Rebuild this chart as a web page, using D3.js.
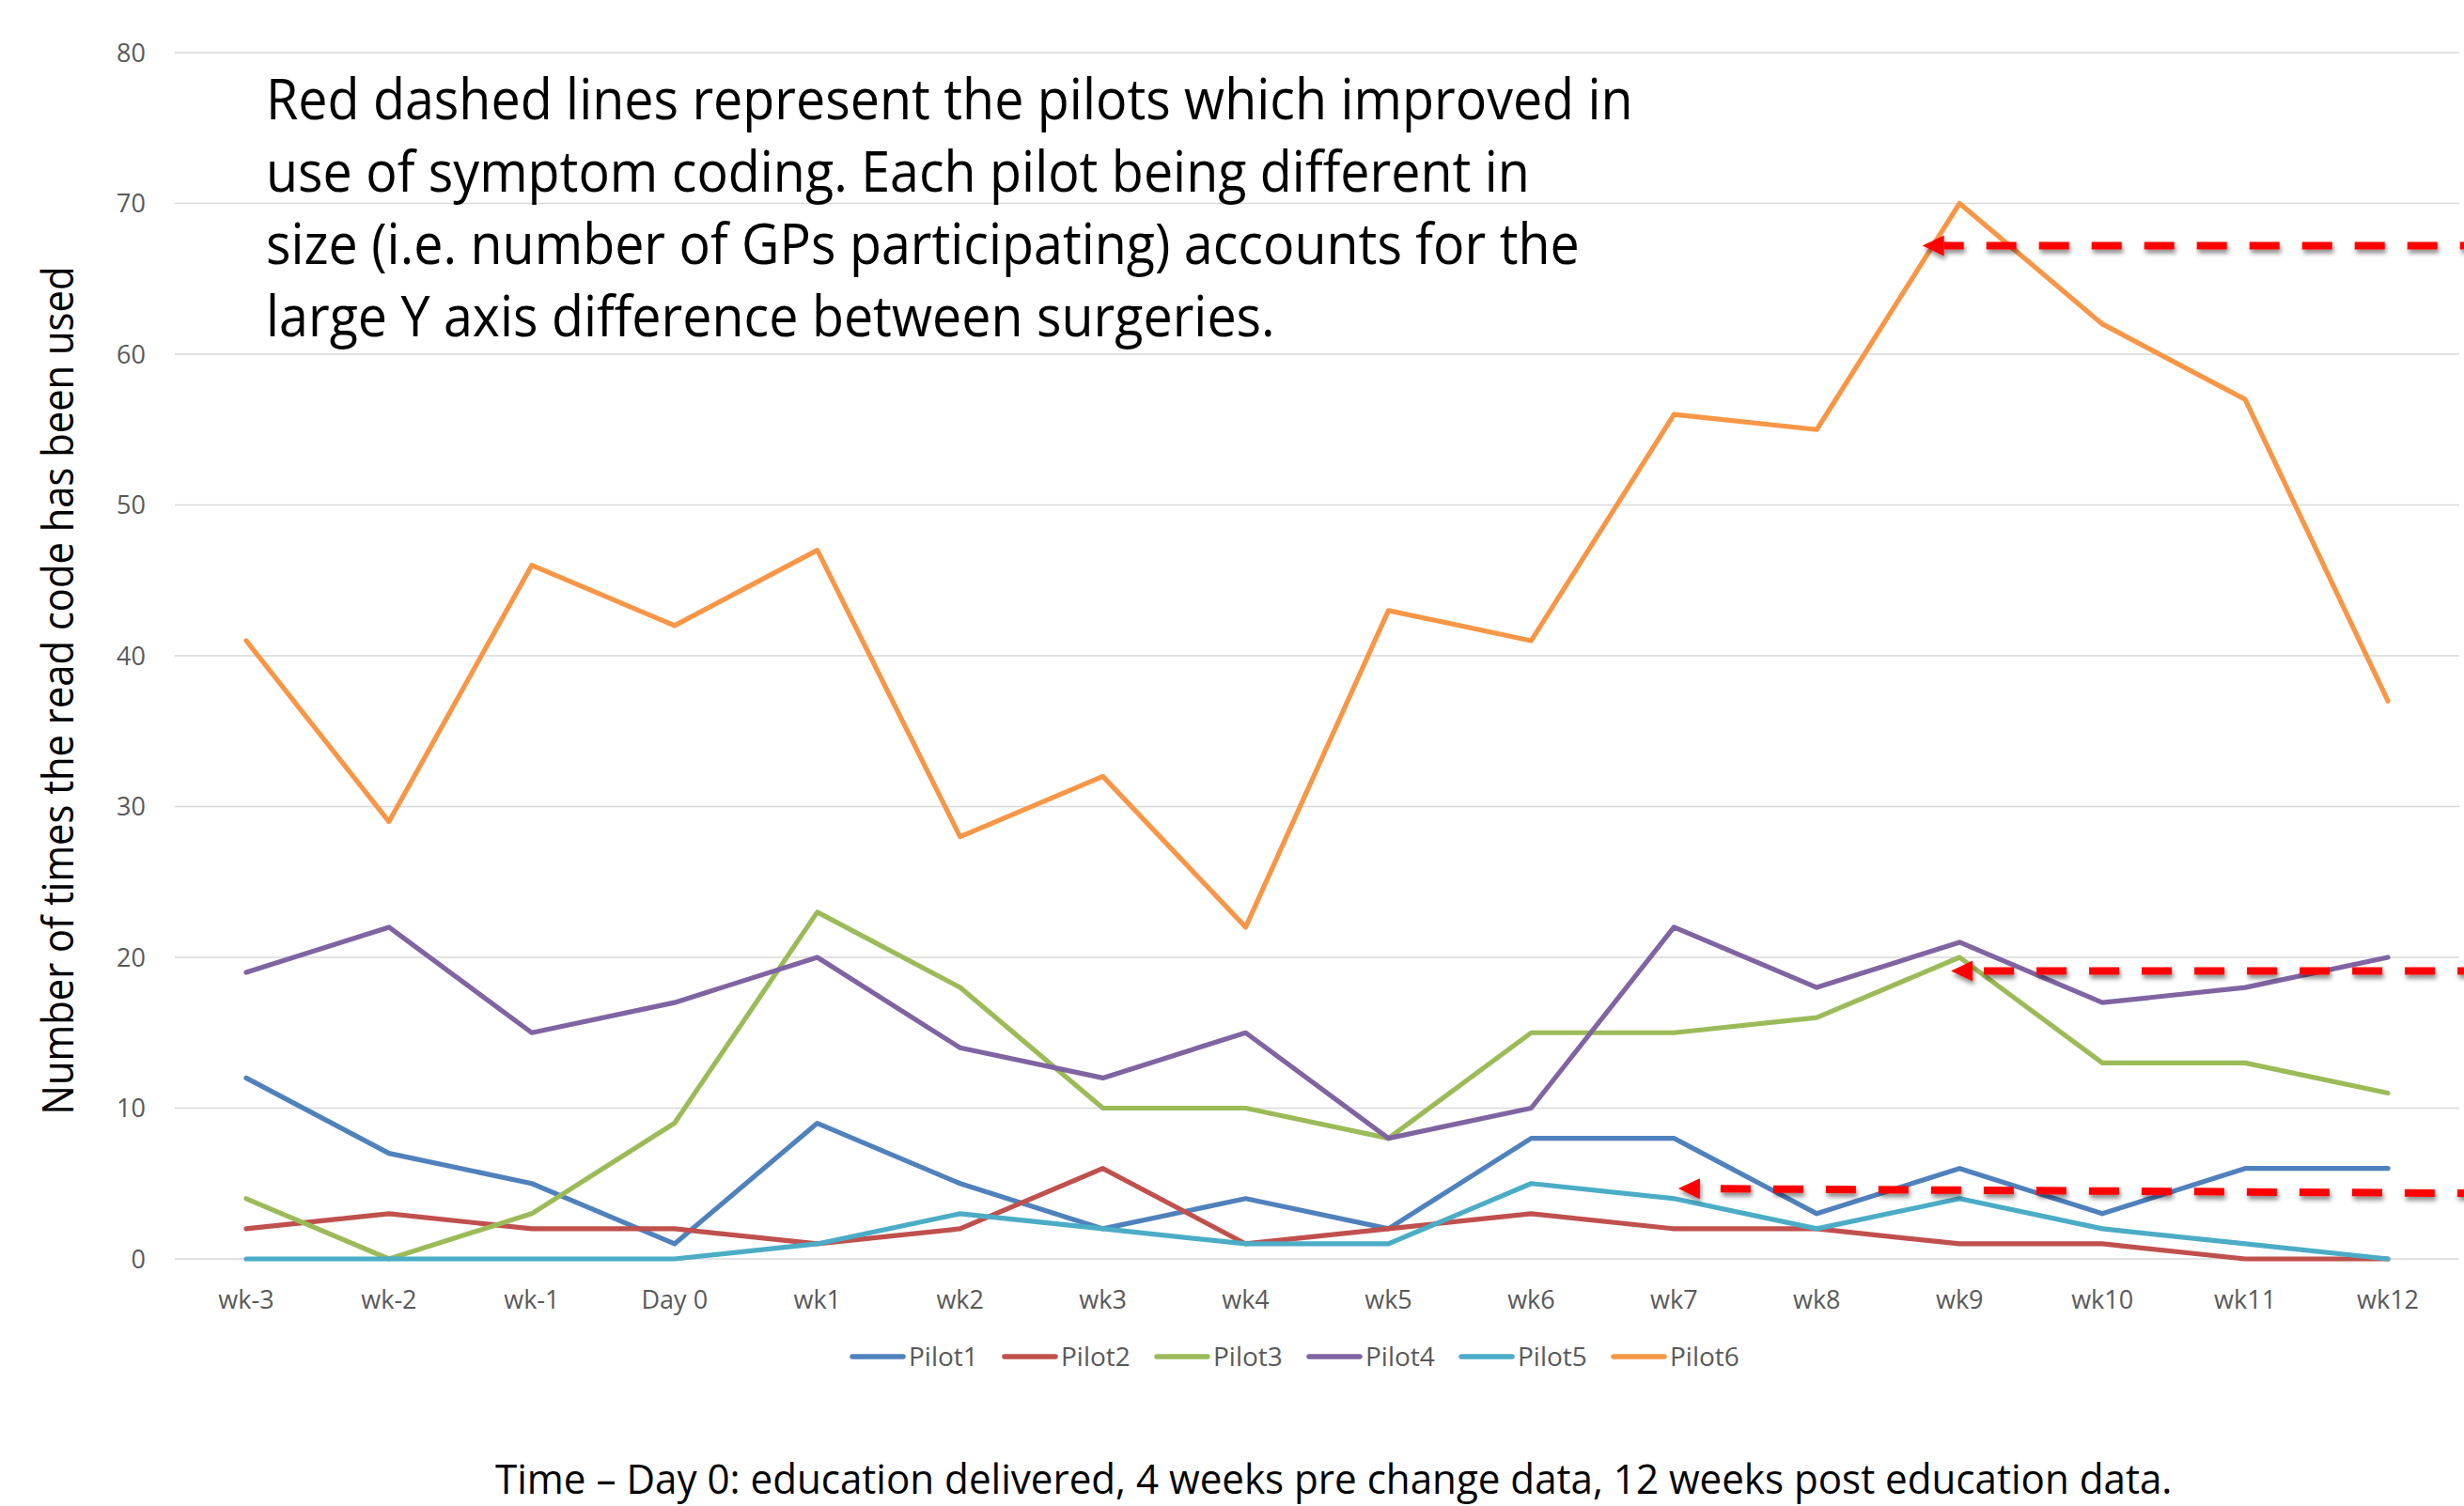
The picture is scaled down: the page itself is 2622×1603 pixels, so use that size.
<!DOCTYPE html>
<html>
<head>
<meta charset="utf-8">
<script src="https://cdn.jsdelivr.net/npm/d3@7"></script>
<style>
  html, body { margin: 0; padding: 0; background: #fff; }
  svg { display: block; }
</style>
</head>
<body>
<svg id="chart" width="2622" height="1603"></svg>
<script>
// ---------------- DATA ----------------
const categories = ["wk-3","wk-2","wk-1","Day 0","wk1","wk2","wk3","wk4","wk5","wk6","wk7","wk8","wk9","wk10","wk11","wk12"];
const seriesNames = ["Pilot1","Pilot2","Pilot3","Pilot4","Pilot5","Pilot6"];
const pilot1 = [12, 7, 5, 1, 9, 5, 2, 4, 2, 8, 8, 3, 6, 3, 6, 6];
const pilot2 = [2, 3, 2, 2, 1, 2, 6, 1, 2, 3, 2, 2, 1, 1, 0, 0];
const pilot3 = [4, 0, 3, 9, 23, 18, 10, 10, 8, 15, 15, 16, 20, 13, 13, 11];
const pilot4 = [19, 22, 15, 17, 20, 14, 12, 15, 8, 10, 22, 18, 21, 17, 18, 20];
const pilot5 = [0, 0, 0, 0, 1, 3, 2, 1, 1, 5, 4, 2, 4, 2, 1, 0];
const pilot6 = [41, 29, 46, 42, 47, 28, 32, 22, 43, 41, 56, 55, 70, 62, 57, 37];
const seriesColors = ["#4F81BD","#C0504D","#9BBB59","#8064A2","#4BACC6","#F79646"];
const yTicks = [0, 10, 20, 30, 40, 50, 60, 70, 80];
const yTitle = "Number of times the read code has been used";
const xTitle = "Time \u2013 Day 0: education delivered, 4 weeks pre change data, 12 weeks post education data.";
const noteLines = [
  "Red dashed lines represent the pilots which improved in",
  "use of symptom coding. Each pilot being different in",
  "size (i.e. number of GPs participating) accounts for the",
  "large Y axis difference between surgeries."
];
// annotation arrows in data units: category index where the arrow tip sits, value at tip and at right end
const arrowTipIndex = [11.74, 11.94, 10.03];
const arrowTipValue = [67.2, 19.1, 4.67];
const arrowEndValue = [67.2, 19.1, 4.35];

const seriesValues = [pilot1, pilot2, pilot3, pilot4, pilot5, pilot6];

// ---------------- LAYOUT ----------------
const plot = { left: 186, right: 2617, top: 56, bottom: 1340 };
const FONT = "'Open Sans', 'Noto Sans', sans-serif";

const svg = d3.select("#chart");

const x = d3.scaleBand().domain(categories).range([plot.left, plot.right]).paddingInner(0).paddingOuter(0);
const xc = d => x(d) + x.bandwidth() / 2;
const y = d3.scaleLinear().domain([0, 80]).range([plot.bottom, plot.top]);
const xIdx = d3.scaleLinear().domain([0, categories.length - 1])
  .range([xc(categories[0]), xc(categories[categories.length - 1])]);

// gridlines
svg.append("g")
  .selectAll("line").data(yTicks).join("line")
  .attr("x1", plot.left).attr("x2", plot.right)
  .attr("y1", d => y(d)).attr("y2", d => y(d))
  .attr("stroke", "#D9D9D9").attr("stroke-width", 1.6);

// y axis
const yAxis = d3.axisLeft(y).tickValues(yTicks).tickSize(0).tickPadding(0);
const gy = svg.append("g").attr("transform", `translate(155,0)`).call(yAxis);
gy.select(".domain").remove();
gy.selectAll("text").attr("font-family", FONT).attr("font-size", 27).attr("fill", "#595959").attr("dy", "0.35em");

// x axis
const xAxis = d3.axisBottom(x).tickSize(0).tickPadding(0);
const gx = svg.append("g").attr("transform", `translate(0,1374)`).call(xAxis);
gx.select(".domain").remove();
gx.selectAll("text").attr("font-family", FONT).attr("font-size", 27).attr("fill", "#595959").attr("dy", "0.71em");

// series lines
const line = d3.line().x((d, i) => xc(categories[i])).y(d => y(d));
svg.append("g").selectAll("path").data(seriesValues).join("path")
  .attr("d", d => line(d))
  .attr("fill", "none")
  .attr("stroke", (d, i) => seriesColors[i])
  .attr("stroke-width", 5.2)
  .attr("stroke-linejoin", "round")
  .attr("stroke-linecap", "round");

// legend
const legendX0 = 907, legendStep = 162, legendY = 1444;
const lg = svg.append("g").selectAll("g").data(seriesNames).join("g")
  .attr("transform", (d, i) => `translate(${legendX0 + i * legendStep},${legendY})`);
lg.append("line").attr("x1", 0).attr("x2", 54).attr("y1", 0).attr("y2", 0)
  .attr("stroke", (d, i) => seriesColors[i]).attr("stroke-width", 5.5).attr("stroke-linecap", "round");
lg.append("text").attr("x", 60).attr("y", 10).text(d => d)
  .attr("font-family", FONT).attr("font-size", 28).attr("fill", "#595959");

// y axis title
const yt = svg.append("text").text(yTitle)
  .attr("font-family", FONT).attr("font-size", 46).attr("fill", "#000");
{
  const w = yt.node().getComputedTextLength();
  const sx = 903 / w;
  yt.attr("text-anchor", "middle")
    .attr("transform", `translate(78,735) rotate(-90) scale(${sx},1)`);
}

// x axis title
const xt = svg.append("text").text(xTitle)
  .attr("font-family", FONT).attr("font-size", 44).attr("fill", "#000");
{
  const w = xt.node().getComputedTextLength();
  const sx = 1785 / w;
  xt.attr("transform", `translate(527,1590) scale(${sx},1)`);
}

// annotation text
const noteG = svg.append("g");
const noteTexts = noteG.selectAll("text").data(noteLines).join("text")
  .text(d => d)
  .attr("font-family", FONT).attr("font-size", 60).attr("fill", "#000");
{
  const w0 = noteTexts.nodes()[0].getComputedTextLength();
  const sx = 1455 / w0;
  noteTexts.attr("transform", (d, i) => `translate(283,${127 + i * 77}) scale(${sx},1)`);
}

// red dashed arrows
const defs = svg.append("defs");
const f = defs.append("filter").attr("id", "shadow").attr("x", "-5%").attr("y", "-100%").attr("width", "110%").attr("height", "300%");
f.append("feDropShadow").attr("dx", 1.5).attr("dy", 4).attr("stdDeviation", 2.5)
  .attr("flood-color", "#000").attr("flood-opacity", 0.45);

const arrowOffsets = [11, 44, 34];
const arrows = arrowTipIndex.map((ti, i) => ({
  tipX: xIdx(ti), tipY: y(arrowTipValue[i]),
  endX: 2640, endY: y(arrowEndValue[i]), off: arrowOffsets[i]
}));
const ag = svg.append("g").attr("filter", "url(#shadow)");
arrows.forEach(a => {
  const headLen = 23, headHalf = 11;
  const ang = Math.atan2(a.endY - a.tipY, a.endX - a.tipX);
  const bx = a.tipX + headLen * Math.cos(ang), by = a.tipY + headLen * Math.sin(ang);
  ag.append("line")
    .attr("x1", bx).attr("y1", by).attr("x2", a.endX).attr("y2", a.endY)
    .attr("stroke", "#FF0000").attr("stroke-width", 8)
    .attr("stroke-dasharray", "32,24").attr("stroke-dashoffset", a.off);
  const px = -Math.sin(ang) * headHalf, py = Math.cos(ang) * headHalf;
  ag.append("path")
    .attr("d", `M${a.tipX},${a.tipY} L${bx + px},${by + py} L${bx - px},${by - py} Z`)
    .attr("fill", "#FF0000");
});
</script>
</body>
</html>
